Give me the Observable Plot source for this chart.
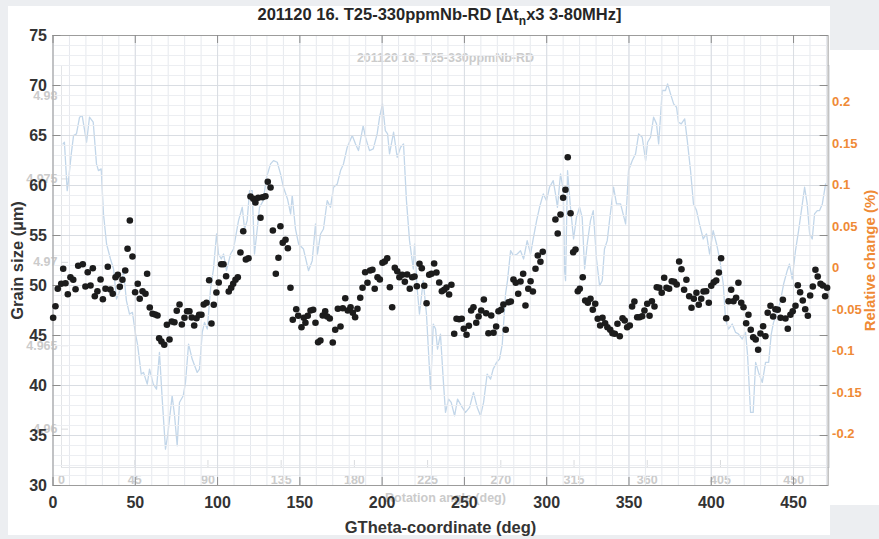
<!DOCTYPE html>
<html><head><meta charset="utf-8">
<script src="https://cdn.jsdelivr.net/npm/d3@7"></script>
<script src="https://cdn.jsdelivr.net/npm/@observablehq/plot@0.6"></script>
<style>
html,body{margin:0;padding:0;background:#eceef1;}
#wrap{position:relative;width:879px;height:539px;overflow:hidden;font-family:"Liberation Sans",Arial,sans-serif;}
.panel{position:absolute;background:#fff;}
#title{position:absolute;left:0;top:0;width:879px;height:28px;text-align:center;font-weight:bold;font-size:16.5px;color:#262626;line-height:28px;}
#title sub{font-size:12px;vertical-align:-5px;line-height:0;}
#bg{position:absolute;left:0;top:0;}
#fg{position:absolute;left:0;top:28px;}
</style></head>
<body><div id="wrap">
<div class="panel" style="left:8px;top:6px;width:822px;height:529px"></div>
<div class="panel" style="left:830px;top:50px;width:49px;height:455px"></div>
<div id="bg"></div>
<div id="title"></div>
<div id="fg"></div>
</div>
<script>
// ---- text ----
const titleMain = "201120 16. T25-330ppmNb-RD [\u0394t";
const titleSub = "n";
const titleEnd = "x3 3-80MHz]";
const xLabel = "GTheta-coordinate (deg)";
const yLabel = "Grain size (\u00b5m)";
const rightLabel = "Relative change (%)";
const bgTitle = "201120 16. T25-330ppmNb-RD";
const bgXLabel = "Rotation angle (deg)";

// ---- ticks ----
const leftTicks = [30, 35, 40, 45, 50, 55, 60, 65, 70, 75];
const bottomTicks = [0, 50, 100, 150, 200, 250, 300, 350, 400, 450];
const relTicks = [-0.2, -0.15, -0.1, -0.05, 0, 0.05, 0.1, 0.15, 0.2];
const relDomain = [-0.2624, 0.2805];
const bgAngleTicks = [0, 45, 90, 135, 180, 225, 270, 315, 360, 405, 450];
const bgValueTicks = [4.96, 4.965, 4.97, 4.975, 4.98];

// ---- grain size points [GTheta deg, grain size µm] ----
const grainPoints = [
[0.1,46.77],[1.5,47.93],[2.9,49.67],[5.0,50.17],[6.2,51.67],[7.6,50.23],[9.0,49.13],[10.6,50.83],[12.3,50.57],[13.7,49.63],
[15.3,51.97],[18.1,52.13],[19.7,49.9],[21.1,51.33],[22.8,50.0],[24.2,51.73],[25.4,48.93],[27.0,49.43],[28.9,50.6],[30.3,48.63],
[31.9,49.67],[33.3,51.87],[34.9,49.6],[36.3,49.17],[38.0,50.83],[39.4,51.07],[40.6,49.87],[42.2,50.57],[43.9,51.5],[45.3,53.67],
[46.7,56.5],[48.3,52.9],[49.9,49.33],[51.5,50.17],[52.7,48.67],[54.4,49.43],[56.2,49.17],[57.2,51.17],[58.8,47.8],[60.5,47.17],
[62.1,47.1],[63.5,47.0],[64.5,44.73],[65.9,44.4],[67.6,44.07],[69.2,46.07],[70.8,44.6],[72.2,46.4],[73.8,46.33],[75.2,47.47],
[76.9,48.1],[78.3,46.1],[79.9,46.77],[81.5,47.43],[82.9,47.43],[84.3,46.8],[85.8,46.0],[87.2,46.73],[88.8,47.07],[90.2,47.07],
[91.6,48.1],[93.3,48.27],[94.9,50.53],[96.3,46.2],[97.7,48.07],[99.3,49.3],[100.7,50.3],[102.2,52.13],[103.6,52.13],[105.2,50.93],
[106.8,49.4],[108.3,49.77],[109.5,50.17],[110.9,50.57],[112.3,50.83],[113.9,53.3],[115.6,55.43],[117.2,52.6],[118.8,52.73],[120.0,58.9],
[121.7,58.67],[123.0,58.3],[124.7,58.77],[126.1,56.77],[127.3,58.83],[129.1,58.93],[130.5,60.37],[132.2,59.8],[133.6,55.5],[135.4,51.17],
[137.0,52.77],[138.2,55.93],[139.6,54.27],[141.3,54.57],[142.7,53.73],[144.3,49.77],[145.7,46.57],[147.8,47.63],[149.0,46.97],
[151.0,45.83],[152.4,46.77],[153.4,46.27],[154.8,46.97],[156.5,47.5],[158.1,47.57],[159.5,46.27],[161.1,44.33],[162.5,44.5],[163.9,47.0],
[165.4,47.43],[166.6,46.9],[168.2,46.7],[170.0,44.3],[171.5,45.57],[173.1,47.67],[174.7,45.9],[176.1,47.73],[177.6,48.73],[179.1,47.5],
[180.8,47.83],[182.2,47.27],[183.6,46.83],[185.0,47.67],[186.7,48.77],[188.1,49.77],[189.7,51.33],[191.1,50.27],[192.7,51.5],[194.1,51.57],
[195.5,49.67],[197.2,50.83],[198.6,50.6],[200.2,52.27],[201.6,52.4],[203.1,52.73],[204.7,49.83],[206.1,47.83],[207.7,51.77],[209.2,51.43],
[210.5,50.83],[212.2,51.07],[213.8,50.37],[215.2,51.1],[216.8,49.67],[218.3,50.83],[219.7,50.9],[221.1,49.93],[222.7,52.17],[224.1,51.73],
[225.6,49.97],[227.0,48.23],[228.6,51.07],[230.0,51.17],[231.6,52.2],[233.0,51.3],[234.7,50.3],[236.3,49.43],[237.7,49.57],[239.1,49.8],
[240.7,49.1],[242.1,50.07],[243.8,45.17],[245.2,46.67],[246.8,46.63],[248.4,46.67],[249.6,45.67],[251.3,45.07],[252.7,45.97],[254.1,47.5],
[255.5,47.83],[257.2,46.27],[258.6,46.9],[260.2,47.5],[261.8,48.6],[263.2,47.23],[264.6,45.23],[266.3,47.0],[267.7,45.27],[269.3,45.9],
[270.7,47.43],[272.3,47.57],[273.7,48.1],[275.1,45.57],[276.8,48.33],[278.2,48.4],[279.8,50.6],[281.2,50.27],[282.7,49.17],[284.1,50.4],
[285.7,51.17],[287.1,48.0],[288.8,49.67],[290.2,50.43],[291.6,49.4],[293.2,51.67],[294.6,53.0],[296.2,52.37],[297.6,53.37],
[305.3,56.6],[306.7,55.2],[308.4,57.1],[310.0,58.77],[311.4,59.57],[312.8,62.83],[314.5,57.23],[316.1,53.33],[317.5,53.6],[318.9,49.43],
[320.1,49.67],[321.9,50.83],[323.4,48.5],[325.0,48.27],[326.6,48.67],[328.0,47.57],[329.5,48.17],[331.0,46.67],[332.5,46.0],[333.9,46.77],
[335.5,46.23],[336.9,45.83],[338.6,45.57],[340.0,45.23],[341.4,45.17],[343.0,46.17],[344.4,44.93],[346.1,46.73],[347.4,46.5],[348.9,45.83],
[350.5,46.0],[351.9,47.9],[353.3,48.4],[355.0,46.83],[356.4,46.83],[358.0,46.93],[359.4,47.5],[361.1,48.17],[362.5,46.97],[363.9,48.43],
[365.5,47.9],[366.9,49.83],[368.4,49.77],[369.9,49.27],[371.4,50.77],[372.8,49.77],[374.4,49.67],[376.0,50.43],[377.5,50.37],[379.0,50.1],
[380.5,52.4],[381.9,51.63],[383.5,49.57],[384.9,50.57],[386.6,48.93],[388.0,47.77],[389.4,48.67],[391.0,49.27],[392.4,48.07],[393.9,48.67],
[395.3,49.4],[396.9,49.43],[398.5,48.27],[400.0,49.97],[401.5,50.33],[403.0,50.5],[404.6,51.3],[406.0,52.73],[409.1,46.73],[410.5,48.43],
[412.1,49.57],[413.5,48.43],[415.1,48.77],[416.5,50.27],[418.2,48.27],[419.6,47.83],[421.2,46.23],[422.6,47.07],[424.0,45.57],[425.5,44.83],
[427.0,44.6],[428.5,43.57],[429.9,45.2],[431.5,45.93],[432.9,44.93],[434.3,47.27],[436.0,47.97],[437.6,46.9],[439.0,47.63],[440.4,47.57],
[442.1,46.77],[443.5,48.57],[445.1,46.7],[446.5,45.67],[448.1,47.07],[449.5,47.43],[451.2,47.97],[452.6,50.03],[454.0,49.33],[455.6,48.5],
[457.1,47.63],[458.7,46.97],[460.1,49.0],[461.7,49.9],[463.3,51.57],[464.7,50.9],[466.4,50.17],[467.8,50.0],[469.2,48.93],[470.4,49.77]
];

// ---- background (overlaid) chart line [rotation angle deg, value] ----
const bgLine = [
[1.0,4.9771],[1.8,4.9772],[3.5,4.9743],[4.3,4.9749],[6.0,4.9765],[7.4,4.9776],[9.2,4.9777],[11.1,4.9787],[12.7,4.9788],[15.4,4.9772],
[17.2,4.9787],[19.5,4.9784],[21.5,4.9759],[22.7,4.9755],[24.4,4.9756],[25.8,4.9729],[27.7,4.9711],[30.1,4.9702],[32.0,4.9696],[33.8,4.9678],
[36.3,4.9684],[38.1,4.9695],[39.9,4.9677],[41.8,4.9669],[43.6,4.9670],[45.5,4.9657],[46.7,4.9651],[49.0,4.9633],[50.4,4.9634],[52.7,4.9627],
[54.1,4.9636],[56.4,4.9627],[58.4,4.9624],[60.2,4.9646],[61.9,4.9618],[63.9,4.9588],[65.2,4.9596],[68.0,4.9620],[69.5,4.9608],[71.1,4.9590],
[72.5,4.9616],[74.8,4.9620],[76.2,4.9628],[78.1,4.9651],[80.3,4.9642],[83.4,4.9634],[84.8,4.9636],[86.5,4.9658],[87.9,4.9664],[89.6,4.9660],
[91.6,4.9684],[93.4,4.9696],[95.3,4.9717],[96.5,4.9705],[98.2,4.9702],[99.6,4.9705],[101.4,4.9695],[103.9,4.9705],[105.7,4.9708],[108.8,4.9725],
[111.1,4.9733],[112.5,4.9720],[114.1,4.9725],[115.6,4.9743],[117.2,4.9743],[118.6,4.9705],[120.3,4.9720],[121.7,4.9733],[124.0,4.9737],[126.0,4.9751],
[128.5,4.9759],[130.3,4.9761],[132.6,4.9760],[134.6,4.9753],[136.4,4.9745],[138.9,4.9738],[140.8,4.9729],[141.8,4.9740],[143.8,4.9720],[145.7,4.9711],
[148.7,4.9708],[151.8,4.9695],[154.1,4.9701],[156.1,4.9723],[157.3,4.9705],[159.2,4.9717],[161.0,4.9720],[163.3,4.9737],[165.3,4.9733],[167.2,4.9745],
[169.5,4.9747],[171.5,4.9755],[173.3,4.9759],[175.6,4.9769],[178.7,4.9776],[180.7,4.9771],[182.5,4.9767],[185.4,4.9782],[186.8,4.9775],[189.3,4.9767],
[191.6,4.9768],[194.0,4.9777],[195.5,4.9787],[197.3,4.9795],[199.0,4.9779],[200.4,4.9777],[201.6,4.9765],[204.1,4.9778],[206.3,4.9763],[208.4,4.9769],
[210.2,4.9771],[212.0,4.9737],[213.9,4.9713],[216.2,4.9696],[217.0,4.9711],[218.6,4.9684],[220.0,4.9669],[222.3,4.9689],[224.3,4.9669],[226.8,4.9624],
[228.5,4.9663],[229.9,4.9660],[231.1,4.9648],[232.9,4.9657],[234.6,4.9630],[236.0,4.9610],[237.9,4.9618],[239.5,4.9616],[241.6,4.9608],[243.4,4.9618],
[245.7,4.9614],[248.3,4.9610],[250.8,4.9613],[253.2,4.9622],[255.5,4.9613],[257.5,4.9608],[259.4,4.9616],[261.6,4.9633],[263.7,4.9630],[265.3,4.9636],
[267.4,4.9640],[269.2,4.9642],[270.9,4.9651],[272.9,4.9681],[274.1,4.9689],[276.0,4.9707],[277.8,4.9704],[280.1,4.9705],[282.1,4.9707],[284.0,4.9702],
[286.2,4.9713],[288.3,4.9705],[289.9,4.9714],[292.0,4.9725],[293.8,4.9733],[296.1,4.9741],[298.1,4.9737],[299.9,4.9745],[302.2,4.9749],[303.6,4.9741],
[304.8,4.9733],[306.7,4.9753],[308.4,4.9743],[309.2,4.9695],[309.8,4.9689],[311.0,4.9755],[312.8,4.9733],[314.7,4.9714],[316.5,4.9727],[318.4,4.9733],
[320.0,4.9727],[321.5,4.9696],[323.1,4.9711],[325.1,4.9725],[326.8,4.9731],[328.8,4.9702],[330.7,4.9686],[332.3,4.9689],[333.7,4.9708],[335.4,4.9713],
[336.8,4.9725],[339.3,4.9745],[341.1,4.9735],[343.6,4.9735],[346.7,4.9723],[348.5,4.9755],[350.8,4.9761],[352.8,4.9765],[354.7,4.9777],[356.9,4.9775],
[359.0,4.9761],[360.2,4.9772],[362.0,4.9775],[363.9,4.9787],[365.7,4.9783],[367.0,4.9771],[369.2,4.9803],[371.2,4.9803],[372.5,4.9807],[374.3,4.9801],
[376.2,4.9795],[378.0,4.9793],[379.2,4.9784],[380.9,4.9783],[383.0,4.9786],[384.6,4.9773],[386.6,4.9755],[388.4,4.9735],[390.3,4.9731],[392.1,4.9723],
[394.4,4.9714],[396.4,4.9717],[398.3,4.9705],[400.5,4.9719],[402.6,4.9711],[404.5,4.9702],[406.7,4.9687],[408.1,4.9666],[409.9,4.9660],[412.2,4.9663],
[414.3,4.9658],[416.1,4.9657],[418.4,4.9654],[420.4,4.9658],[421.6,4.9645],[423.5,4.9610],[425.1,4.9610],[426.6,4.9640],[428.4,4.9634],[430.7,4.9628],
[432.7,4.9640],[434.6,4.9640],[436.2,4.9657],[437.6,4.9664],[439.9,4.9670],[441.9,4.9677],[443.8,4.9687],[446.0,4.9695],[447.4,4.9699],[449.1,4.9690],
[451.1,4.9707],[453.0,4.9719],[455.3,4.9735],[456.7,4.9745],[458.3,4.9735],[459.8,4.9717],[461.4,4.9714],[462.8,4.9729],[464.5,4.9731],[465.9,4.9731],
[467.6,4.9735],[469.6,4.9747]
];

// ---- title ----
const t = document.getElementById("title");
t.appendChild(document.createTextNode(titleMain));
const sub = document.createElement("sub"); sub.textContent = titleSub; t.appendChild(sub);
t.appendChild(document.createTextNode(titleEnd));

const FONT = "Liberation Sans, Arial, Helvetica, sans-serif";
const ORANGE = "#ef8a36";
const FAINT = "#cbcbcb";

// ---- background (faded, overlaid) chart ----
const BG = {w: 879, h: 539, top: 65, right: 50, bottom: 72, left: 61};
const bgPlotH = BG.h - BG.top - BG.bottom;
const bg = Plot.plot({
  width: BG.w, height: BG.h,
  marginTop: BG.top, marginRight: BG.right, marginBottom: BG.bottom, marginLeft: BG.left,
  style: {background: "transparent", overflow: "visible", fontFamily: FONT},
  x: {domain: [0, 472]},
  y: {domain: [4.9577, 4.9818]},
  marks: [
    Plot.frame({stroke: "#e3e5e8"}),
    Plot.tickX(bgAngleTicks, {x: d => d, insetTop: bgPlotH - 7, stroke: "#d9dbde"}),
    Plot.tickY(bgValueTicks, {y: d => d, insetRight: (BG.w - BG.left - BG.right) - 7, stroke: "#d9dbde"}),
    Plot.line(bgLine, {x: d => d[0], y: d => d[1], stroke: "#c2d6e9", strokeWidth: 1.3}),
    Plot.axisX(bgAngleTicks, {anchor: "bottom", tickSize: 0, tickPadding: 8, fontSize: 12.5, fontWeight: "bold", color: FAINT, label: null, tickFormat: d => String(d)}),
    Plot.axisY(bgValueTicks, {anchor: "left", tickSize: 0, tickPadding: 4, fontSize: 12.5, fontWeight: "bold", color: FAINT, label: null, tickFormat: d => String(d)}),
    Plot.text([bgTitle], {frameAnchor: "top", textAnchor: "middle", lineAnchor: "middle", dy: -8, fontSize: 12.5, fontWeight: "bold", fill: FAINT}),
    Plot.text([bgXLabel], {frameAnchor: "bottom", textAnchor: "middle", lineAnchor: "middle", dy: 30, fontSize: 12.5, fontWeight: "bold", fill: FAINT})
  ]
});
document.getElementById("bg").appendChild(bg);

// ---- foreground chart ----
const FG = {w: 879, h: 511, top: 7, right: 51.4, bottom: 54, left: 52.5};
const plotW = FG.w - FG.left - FG.right;
const plotH = FG.h - FG.top - FG.bottom;
const yExtent = [30, 75];
const rel = d3.scaleLinear(relDomain, yExtent);

const fg = Plot.plot({
  width: FG.w, height: FG.h,
  marginTop: FG.top, marginRight: FG.right, marginBottom: FG.bottom, marginLeft: FG.left,
  style: {background: "transparent", overflow: "visible", fontFamily: FONT},
  x: {domain: [0, 471]},
  y: {domain: yExtent},
  marks: [
    Plot.gridX(d3.range(0, 471, 10), {stroke: "#e6e9ee", strokeOpacity: 1}),
    Plot.gridY(d3.range(30, 76, 1), {stroke: "#eceef2", strokeOpacity: 1}),
    Plot.gridX(bottomTicks, {stroke: "#d9dde3", strokeOpacity: 1}),
    Plot.gridY(leftTicks, {stroke: "#d9dde3", strokeOpacity: 1}),
    Plot.frame({stroke: "#9c9c9c"}),
    Plot.tickY(leftTicks, {y: d => d, insetRight: plotW - 8, stroke: "#8c8c8c"}),
    Plot.tickY(leftTicks, {y: d => d, insetLeft: plotW - 8, stroke: "#8c8c8c"}),
    Plot.tickX(bottomTicks, {x: d => d, insetTop: plotH - 8, stroke: "#8c8c8c"}),
    Plot.tickX(bottomTicks, {x: d => d, insetBottom: plotH - 8, stroke: "#8c8c8c"}),
    Plot.dot(grainPoints, {x: d => d[0], y: d => d[1], r: 3.3, fill: "#1c1c1c", stroke: null}),
    Plot.axisY(leftTicks, {anchor: "left", tickSize: 0, tickPadding: 6, fontSize: 16, fontWeight: "bold", color: "#333", label: null, tickFormat: d => String(d)}),
    Plot.axisX(bottomTicks, {anchor: "bottom", tickSize: 0, tickPadding: 11, fontSize: 16, fontWeight: "bold", color: "#333", label: null, tickFormat: d => String(d)}),
    Plot.axisY(relTicks.map(v => rel(v)), {anchor: "right", tickSize: 0, tickPadding: 4, fontSize: 13, fontWeight: "bold", color: ORANGE, label: null, tickFormat: d => String(+rel.invert(d).toFixed(3))}),
    Plot.text([yLabel], {frameAnchor: "left", textAnchor: "middle", lineAnchor: "middle", dx: -35, rotate: -90, fontSize: 16.5, fontWeight: "bold", fill: "#333"}),
    Plot.text([xLabel], {frameAnchor: "bottom", textAnchor: "middle", lineAnchor: "middle", dy: 42, fontSize: 16.5, fontWeight: "bold", fill: "#333"}),
    Plot.text([rightLabel], {frameAnchor: "right", textAnchor: "middle", lineAnchor: "middle", dx: 42, rotate: -90, fontSize: 15, fontWeight: "bold", fill: ORANGE})
  ]
});
document.getElementById("fg").appendChild(fg);
</script>
</body></html>
